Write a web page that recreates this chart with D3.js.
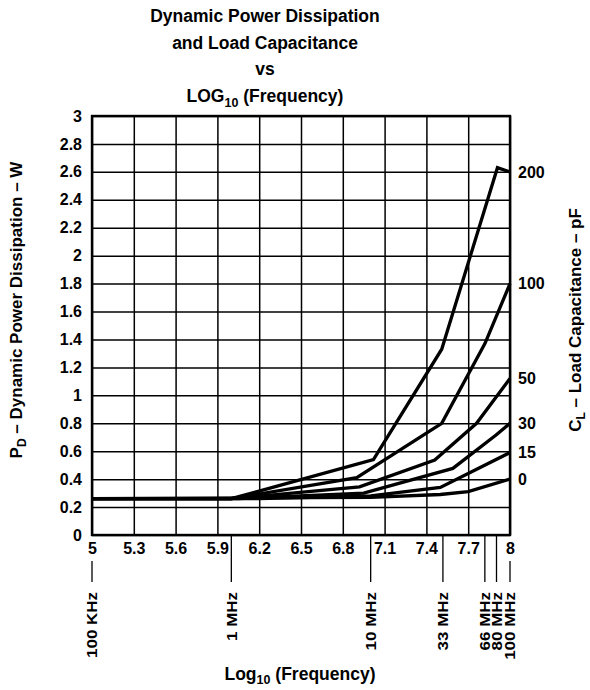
<!DOCTYPE html>
<html>
<head>
<meta charset="utf-8">
<script src="https://cdn.jsdelivr.net/npm/d3@7"></script>
<style>
  html, body { margin: 0; padding: 0; background: #fff; }
  svg { display: block; font-family: "Liberation Sans", Arial, Helvetica, sans-serif; font-weight: bold; }
</style>
</head>
<body>
<svg id="chart" width="590" height="690"></svg>
<script>
// ---- data ----
const xTicks = [5, 5.3, 5.6, 5.9, 6.2, 6.5, 6.8, 7.1, 7.4, 7.7, 8];
const yTicks = [0, 0.2, 0.4, 0.6, 0.8, 1, 1.2, 1.4, 1.6, 1.8, 2, 2.2, 2.4, 2.6, 2.8, 3];
const freqHz = [1e5, 1e6, 1e7, 33e6, 66e6, 80e6, 1e8];
const freqLabels = ["100 KHz", "1 MHz", "10 MHz", "33 MHz", "66 MHz", "80 MHz", "100 MHz"];
const seriesNames = ["200", "100", "50", "30", "15", "0"];
const cap200 = [[5, 0.26], [6.0, 0.26], [7.02, 0.54], [7.51, 1.33], [7.91, 2.63], [8, 2.60]];
const cap100 = [[5, 0.26], [6.0, 0.26], [6.9, 0.41], [7.51, 0.80], [7.82, 1.37], [8, 1.80]];
const cap50  = [[5, 0.26], [6.0, 0.26], [6.92, 0.345], [7.46, 0.537], [7.76, 0.80], [8, 1.12]];
const cap30  = [[5, 0.26], [6.05, 0.26], [6.95, 0.30], [7.59, 0.477], [7.9, 0.716], [8, 0.80]];
const cap15  = [[5, 0.26], [6.2, 0.26], [7.0, 0.28], [7.50, 0.34], [8, 0.59]];
const cap0   = [[5, 0.26], [7.0, 0.27], [7.5, 0.29], [7.7, 0.31], [8, 0.40]];
const seriesValues = [cap200, cap100, cap50, cap30, cap15, cap0];

// ---- layout ----
const svg = d3.select("#chart");
const L = 92, R = 510, T = 116, B = 535;
const x = d3.scaleLinear().domain([5, 8]).range([L, R]);
const y = d3.scaleLinear().domain([0, 3]).range([B, T]);
const fmt = d => String(+d.toFixed(1));

// grid
const gx = svg.append("g").attr("transform", `translate(0,${B})`)
  .call(d3.axisBottom(x).tickValues(xTicks).tickSize(-(B - T)).tickFormat(""));
const gy = svg.append("g").attr("transform", `translate(${L},0)`)
  .call(d3.axisLeft(y).tickValues(yTicks).tickSize(-(R - L)).tickFormat(""));
[gx, gy].forEach(g => {
  g.select(".domain").remove();
  g.selectAll(".tick line").attr("stroke", "#000").attr("stroke-width", 1.5);
});

// frame
svg.append("rect").attr("x", L).attr("y", T).attr("width", R - L).attr("height", B - T)
  .attr("fill", "none").attr("stroke", "#000").attr("stroke-width", 2.4);

// tick labels
const ly = svg.append("g").attr("transform", `translate(${L},0)`)
  .call(d3.axisLeft(y).tickValues(yTicks).tickSize(0).tickPadding(10).tickFormat(fmt));
ly.select(".domain").remove();
ly.selectAll("text").attr("font-size", 16).attr("font-family", null).attr("fill", "#000");

const lx = svg.append("g").attr("transform", `translate(0,${B})`)
  .call(d3.axisBottom(x).tickValues(xTicks).tickSize(0).tickPadding(8).tickFormat(fmt));
lx.select(".domain").remove();
lx.selectAll("text").attr("font-size", 16).attr("font-family", null).attr("fill", "#000");

// frequency markers
const fm = svg.append("g");
freqHz.forEach((f, i) => {
  const lv = Math.log10(f);
  const px = x(lv);
  const onLabel = xTicks.some(t => Math.abs(t - lv) < 1e-9);
  fm.append("line").attr("x1", px).attr("x2", px)
    .attr("y1", onLabel ? 561 : B).attr("y2", 582)
    .attr("stroke", "#000").attr("stroke-width", 1.3);
  fm.append("text")
    .attr("transform", `translate(${px},592) rotate(-90) scale(1.13,1)`)
    .attr("text-anchor", "end").attr("dy", "0.36em")
    .attr("font-size", 15).text(freqLabels[i]);
});

// series
const line = d3.line().x(d => x(d[0])).y(d => y(d[1]));
seriesValues.forEach((s, i) => {
  svg.append("path").attr("d", line(s)).attr("fill", "none")
    .attr("stroke", "#000").attr("stroke-width", 3.3)
    .attr("stroke-linejoin", "miter").attr("stroke-linecap", "butt");
  const last = s[s.length - 1];
  svg.append("text").attr("x", R + 8).attr("y", y(last[1])).attr("dy", "0.36em")
    .attr("font-size", 16).text(seriesNames[i]);
});

// titles
const title = svg.append("text").attr("text-anchor", "middle").attr("font-size", 17.5);
title.append("tspan").attr("x", 265).attr("y", 22).text("Dynamic Power Dissipation");
title.append("tspan").attr("x", 265).attr("y", 49).text("and Load Capacitance");
title.append("tspan").attr("x", 265).attr("y", 75).text("vs");
const t4 = svg.append("text").attr("text-anchor", "middle").attr("x", 265).attr("y", 102).attr("font-size", 17.5);
t4.append("tspan").text("LOG");
t4.append("tspan").attr("font-size", 12.5).attr("dy", 5).text("10");
t4.append("tspan").attr("dy", -5).text(" (Frequency)");

const xt = svg.append("text").attr("text-anchor", "middle").attr("x", 300).attr("y", 680).attr("font-size", 17.5);
xt.append("tspan").text("Log");
xt.append("tspan").attr("font-size", 12.5).attr("dy", 4).text("10");
xt.append("tspan").attr("dy", -4).text(" (Frequency)");

const yt = svg.append("text").attr("text-anchor", "middle")
  .attr("transform", "translate(22,310) rotate(-90)").attr("font-size", 17);
yt.append("tspan").text("P");
yt.append("tspan").attr("font-size", 12).attr("dy", 4).text("D");
yt.append("tspan").attr("dy", -4).text(" – Dynamic Power Dissipation – W");

const rt = svg.append("text").attr("text-anchor", "middle")
  .attr("transform", "translate(581,320) rotate(-90)").attr("font-size", 17);
rt.append("tspan").text("C");
rt.append("tspan").attr("font-size", 12).attr("dy", 4).text("L");
rt.append("tspan").attr("dy", -4).text(" – Load Capacitance – pF");
</script>
</body>
</html>
